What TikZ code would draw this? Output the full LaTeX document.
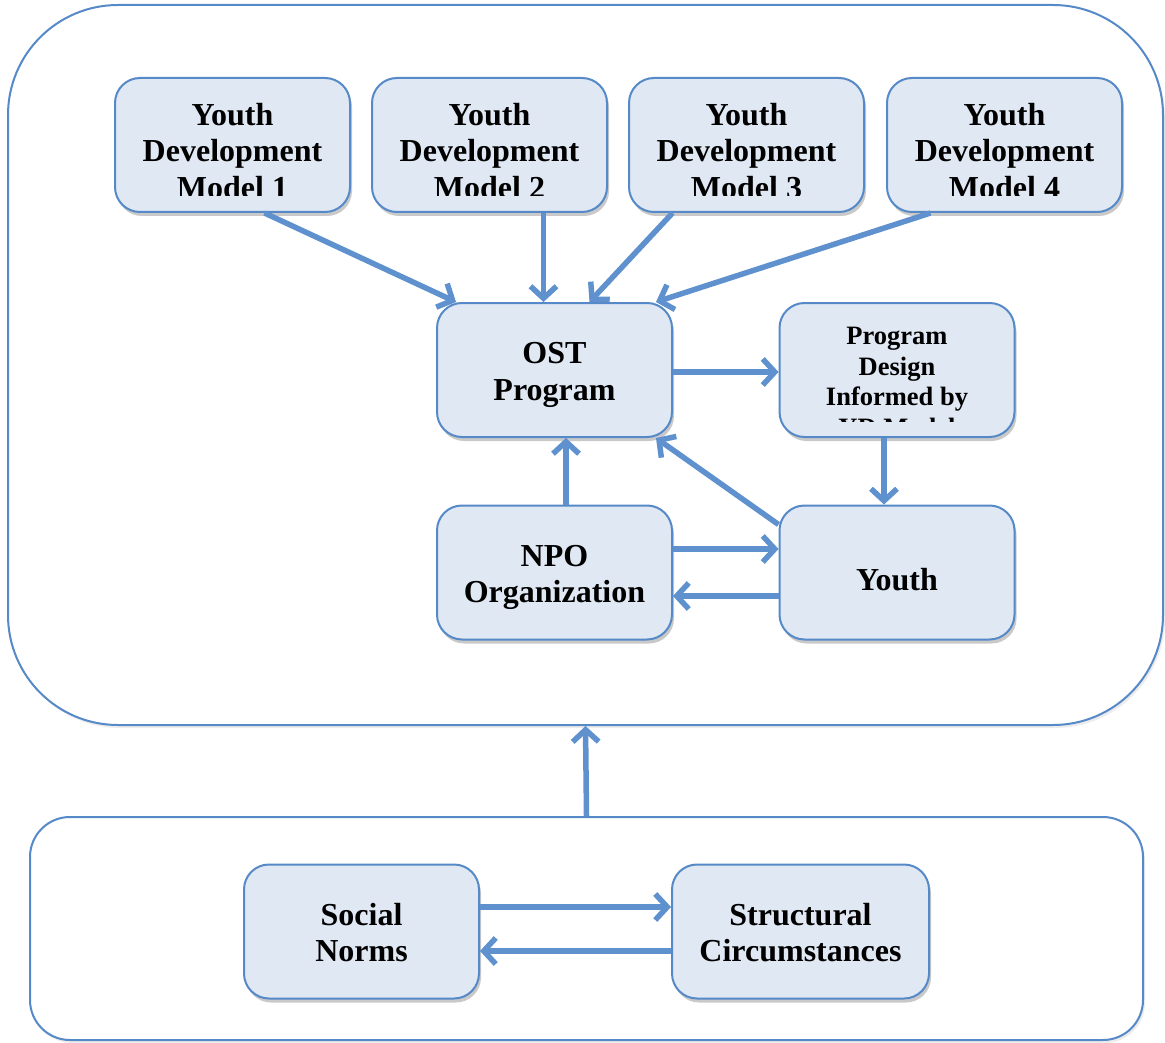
\documentclass[tikz,border=0pt]{standalone}
\usepackage{fontspec}
\setmainfont{Liberation Serif}
\usetikzlibrary{arrows.meta,shadows,calc}
\definecolor{edgeblue}{RGB}{86,137,199}
\definecolor{arrowblue}{RGB}{94,145,205}
\definecolor{boxfill}{RGB}{224,232,243}
\tikzset{
  frame/.style={draw=edgeblue, line width=2pt, fill=white, rectangle, inner sep=0pt,
    drop shadow={shadow xshift=2pt, shadow yshift=-3pt, opacity=0.15, fill=gray}},
  card/.style={draw=edgeblue, line width=2pt, fill=boxfill, rectangle, rounded corners=25pt,
    inner sep=0pt, minimum width=235pt, minimum height=134pt,
    drop shadow={shadow xshift=2pt, shadow yshift=-4pt, opacity=0.35, fill=black!60}},
  cardtext/.style={font=\bfseries\fontsize{32}{36.5}\selectfont, align=center, inner sep=0pt},
  smalltext/.style={font=\bfseries\fontsize{26.5}{30.5}\selectfont, align=center, inner sep=0pt},
  flow/.style={draw=arrowblue, line width=5.5pt, -{Straight Barb[length=12pt,width=26pt]}},
  % #1 = vertical offset of the text (down), #2 = text; text is cut 16pt above the bottom edge
  label in/.style 2 args={path picture={
      \clip (path picture bounding box.north west) rectangle ($(path picture bounding box.south east)+(0,-16)$);
      \node[cardtext] at ($(path picture bounding box.center)+(0,#1)$) {#2};}},
}
\begin{document}
\begin{tikzpicture}[x=1pt,y=-1pt]
\useasboundingbox (0,0) rectangle (1165,1043);
% outer frames
\node[frame, rounded corners=110pt, minimum width=1155pt, minimum height=720pt] (outer) at (585.5,365) {};
\node[frame, rounded corners=40pt, minimum width=1113pt, minimum height=223pt] (base) at (586.5,928.5) {};
% model boxes
\node[card, label in={6}{Youth\\Development\\Model 1}] (m1) at (232.5,145) {};
\node[card, label in={6}{Youth\\Development\\Model 2}] (m2) at (489.5,145) {};
\node[card, label in={6}{Youth\\Development\\Model 3}] (m3) at (746.5,145) {};
\node[card, label in={6}{Youth\\Development\\Model 4}] (m4) at (1004.5,145) {};
% middle
\node[card, label in={5}{OST\\Program}] (ost) at (554.5,370) {};
\node[card, path picture={
    \clip (path picture bounding box.north west) rectangle ($(path picture bounding box.south east)+(0,-16)$);
    \node[smalltext] at ($(path picture bounding box.center)+(0,12)$) {Program\\Design\\Informed by\\YD Model};}] (pd) at (897,370) {};
\node[card, label in={5}{NPO\\Organization}] (npo) at (554.5,572.5) {};
\node[card, label in={7}{Youth}] (youth) at (897,572.5) {};
% bottom
\node[card, label in={1}{Social\\Norms}] (sn) at (361.5,931.5) {};
\node[card, minimum width=257pt, label in={1}{Structural\\Circumstances}] (sc) at (800.5,931.5) {};
% arrows
\draw[flow] ($(m1.south)+(32,0)$) -- ($(ost.north west)+(20,0)$);
\draw[flow] ($(m2.south)+(54,0)$) -- ($(ost.north)+(-11,0)$);
\draw[flow] ($(m3.south)+(-74,0)$) -- ($(ost.north)+(35,0)$);
\draw[flow] ($(m4.south)+(-74,0)$) -- ($(ost.north east)+(-17,0)$);
\draw[flow] ($(ost.east)+(0,2)$) -- ($(pd.west)+(0,2)$);
\draw[flow] ($(pd.south)+(-13,0)$) -- ($(youth.north)+(-13,0)$);
\draw[flow] ($(youth.north west)+(0,20)$) -- ($(ost.south east)+(-17,0)$);
\draw[flow] ($(npo.north)+(11.5,0)$) -- ($(ost.south)+(11.5,0)$);
\draw[flow] ($(npo.east)+(0,-23.5)$) -- ($(youth.west)+(0,-23.5)$);
\draw[flow] ($(youth.west)+(0,23.5)$) -- ($(npo.east)+(0,23.5)$);
\draw[flow] (base.north) -- (outer.south);
\draw[flow] ($(sn.east)+(0,-24.5)$) -- ($(sc.west)+(0,-24.5)$);
\draw[flow] ($(sc.west)+(0,19.5)$) -- ($(sn.east)+(0,19.5)$);
\end{tikzpicture}
\end{document}
